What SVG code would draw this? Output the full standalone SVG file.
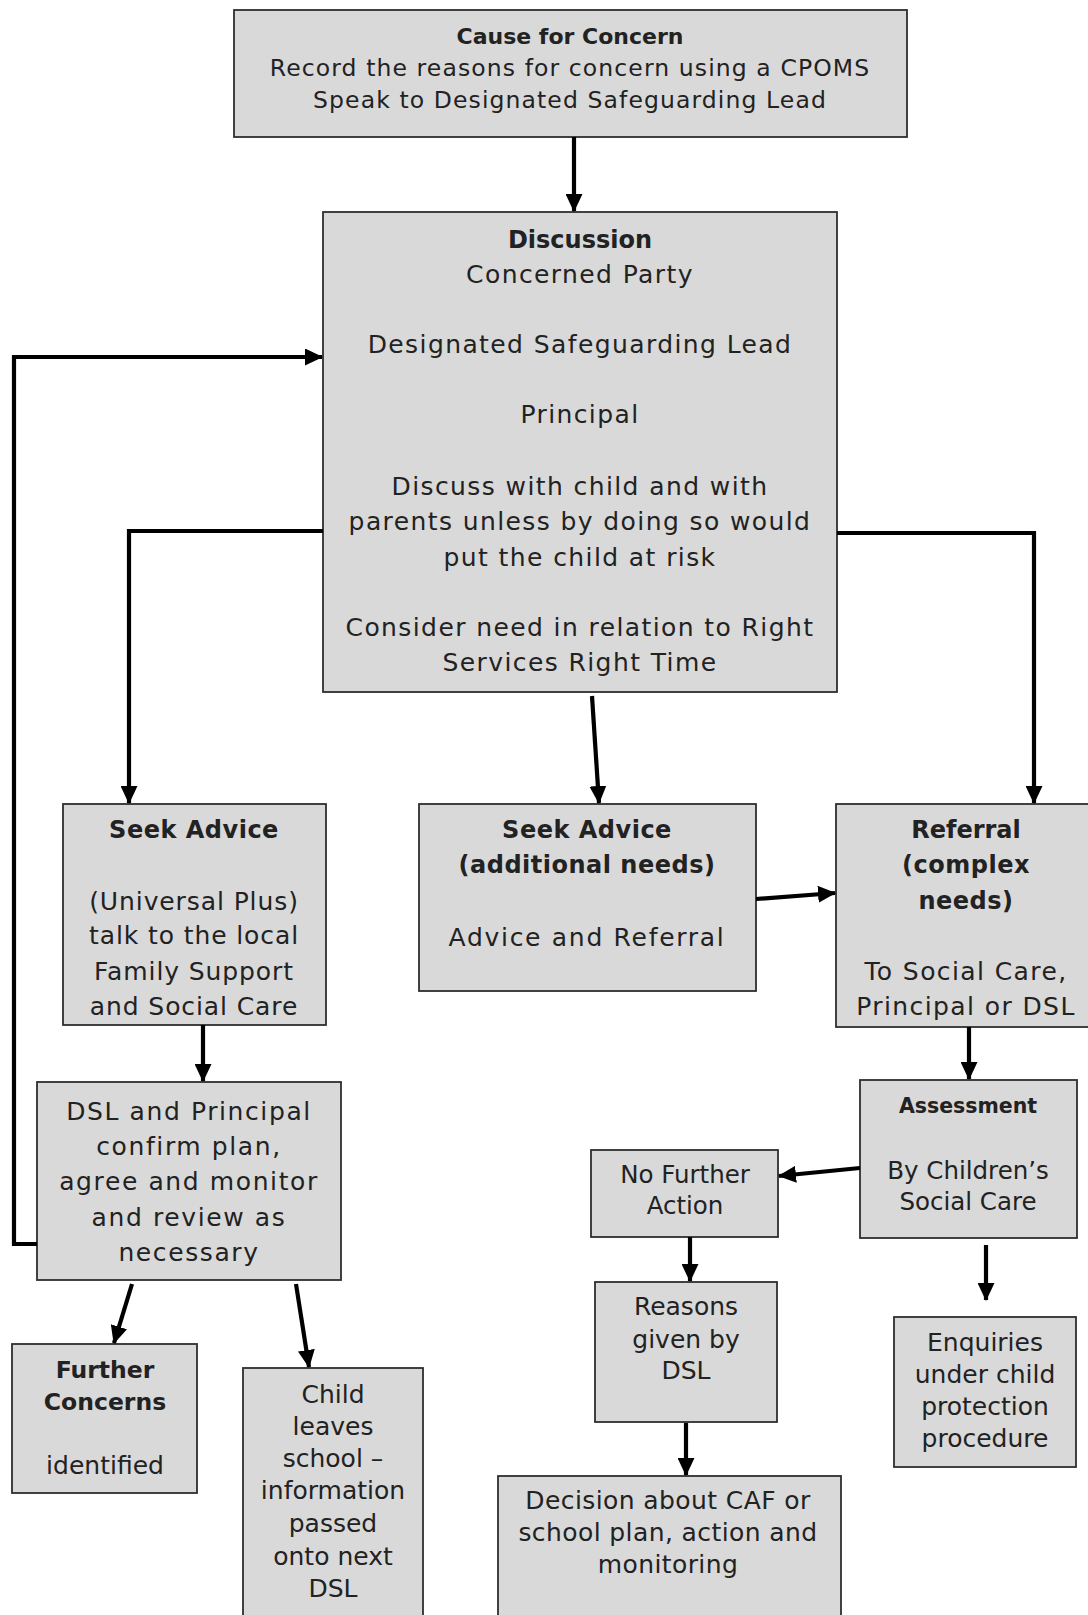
<svg xmlns="http://www.w3.org/2000/svg" width="1088" height="1615" viewBox="0 0 1088 1615">
<defs>
<marker id="ah" markerUnits="userSpaceOnUse" markerWidth="18" markerHeight="17" viewBox="0 0 18 17" refX="17" refY="8.5" orient="auto">
<path d="M0,0 L18,8.5 L0,17 Z" fill="#000"/>
</marker>
<style>
.box{fill:#d9d9d9;stroke:#2e2e2e;stroke-width:1.8}
.t{font-family:"DejaVu Sans","Liberation Sans",sans-serif;fill:#222;text-anchor:middle}
.b{font-weight:bold;font-size:24px;letter-spacing:0.5px}
.bs{font-weight:bold;font-size:22px}
.r{font-size:25px;letter-spacing:1.4px}
.s{font-size:24.5px;letter-spacing:0}
.c{stroke:#000;stroke-width:4.2;fill:none;marker-end:url(#ah)}
</style>
</defs>
<rect width="1088" height="1615" fill="#fff"/>

<g id="cause">
<rect class="box" x="234" y="10" width="673" height="127"/>
<text class="t bs" x="570" y="44">Cause for Concern</text>
<text class="t s" x="570" y="76" style="font-size:23.5px;letter-spacing:1.1px">Record the reasons for concern using a CPOMS</text>
<text class="t s" x="570" y="108" style="font-size:23.5px;letter-spacing:1.1px">Speak to Designated Safeguarding Lead</text>
</g>

<g id="discussion">
<rect class="box" x="323" y="212" width="514" height="480"/>
<text class="t b" x="580" y="248" style="letter-spacing:0">Discussion</text>
<text class="t r" x="580" y="283">Concerned Party</text>
<text class="t r" x="580" y="353">Designated Safeguarding Lead</text>
<text class="t r" x="580" y="423">Principal</text>
<text class="t r" x="580" y="495">Discuss with child and with</text>
<text class="t r" x="580" y="530">parents unless by doing so would</text>
<text class="t r" x="580" y="566">put the child at risk</text>
<text class="t r" x="580" y="636">Consider need in relation to Right</text>
<text class="t r" x="580" y="671">Services Right Time</text>
</g>

<g id="seek-left">
<rect class="box" x="63" y="804" width="263" height="221"/>
<text class="t b" x="194" y="838">Seek Advice</text>
<text class="t r" x="194" y="910" style="letter-spacing:0.9px">(Universal Plus)</text>
<text class="t r" x="194" y="944" style="letter-spacing:0.9px">talk to the local</text>
<text class="t r" x="194" y="980" style="letter-spacing:0.9px">Family Support</text>
<text class="t r" x="194" y="1015" style="letter-spacing:0.9px">and Social Care</text>
</g>

<g id="seek-mid">
<rect class="box" x="419" y="804" width="337" height="187"/>
<text class="t b" x="587" y="838">Seek Advice</text>
<text class="t b" x="587" y="873">(additional needs)</text>
<text class="t r" x="587" y="946" style="letter-spacing:1.7px">Advice and Referral</text>
</g>

<g id="referral">
<rect class="box" x="836" y="804" width="260" height="223"/>
<text class="t b" x="966" y="838" style="letter-spacing:0">Referral</text>
<text class="t b" x="966" y="873">(complex</text>
<text class="t b" x="966" y="909">needs)</text>
<text class="t r" x="966" y="980">To Social Care,</text>
<text class="t r" x="966" y="1015">Principal or DSL</text>
</g>

<g id="dsl-plan">
<rect class="box" x="37" y="1082" width="304" height="198"/>
<text class="t r" x="189" y="1120" style="letter-spacing:1.6px">DSL and Principal</text>
<text class="t r" x="189" y="1155" style="letter-spacing:1.6px">confirm plan,</text>
<text class="t r" x="189" y="1190" style="letter-spacing:1.6px">agree and monitor</text>
<text class="t r" x="189" y="1226" style="letter-spacing:1.6px">and review as</text>
<text class="t r" x="189" y="1261" style="letter-spacing:1.6px">necessary</text>
</g>

<g id="assessment">
<rect class="box" x="860" y="1080" width="217" height="158"/>
<text class="t bs" x="968" y="1113" style="font-size:20.5px">Assessment</text>
<text class="t s" x="968" y="1179">By Children’s</text>
<text class="t s" x="968" y="1210">Social Care</text>
</g>

<g id="no-further-action">
<rect class="box" x="591" y="1150" width="187" height="87"/>
<text class="t s" x="685" y="1183">No Further</text>
<text class="t s" x="685" y="1214">Action</text>
</g>

<g id="reasons">
<rect class="box" x="595" y="1282" width="182" height="140"/>
<text class="t s" x="686" y="1315" style="font-size:25px">Reasons</text>
<text class="t s" x="686" y="1348" style="font-size:25px">given by</text>
<text class="t s" x="686" y="1379" style="font-size:25px">DSL</text>
</g>

<g id="decision">
<rect class="box" x="498" y="1476" width="343" height="150"/>
<text class="t s" x="668" y="1509" style="font-size:25px;letter-spacing:0.4px">Decision about CAF or</text>
<text class="t s" x="668" y="1541" style="font-size:25px;letter-spacing:0.4px">school plan, action and</text>
<text class="t s" x="668" y="1573" style="font-size:25px;letter-spacing:0.4px">monitoring</text>
</g>

<g id="enquiries">
<rect class="box" x="894" y="1317" width="182" height="150"/>
<text class="t s" x="985" y="1351" style="font-size:25px">Enquiries</text>
<text class="t s" x="985" y="1383" style="font-size:25px">under child</text>
<text class="t s" x="985" y="1415" style="font-size:25px">protection</text>
<text class="t s" x="985" y="1447" style="font-size:25px">procedure</text>
</g>

<g id="further-concerns">
<rect class="box" x="12" y="1344" width="185" height="149"/>
<text class="t bs" x="105" y="1378" style="font-size:23.5px">Further</text>
<text class="t bs" x="105" y="1410" style="font-size:23.5px">Concerns</text>
<text class="t s" x="105" y="1474" style="font-size:25px">identified</text>
</g>

<g id="child-leaves">
<rect class="box" x="243" y="1368" width="180" height="260"/>
<text class="t s" x="333" y="1403" style="font-size:25px">Child</text>
<text class="t s" x="333" y="1435" style="font-size:25px">leaves</text>
<text class="t s" x="333" y="1467" style="font-size:25px">school –</text>
<text class="t s" x="333" y="1499" style="font-size:25px">information</text>
<text class="t s" x="333" y="1532" style="font-size:25px">passed</text>
<text class="t s" x="333" y="1565" style="font-size:25px">onto next</text>
<text class="t s" x="333" y="1597" style="font-size:25px">DSL</text>
</g>

<g id="connectors">
<path class="c" d="M574,137 V211"/>
<path class="c" d="M323,531 H129 V803"/>
<path class="c" d="M837,533 H1034 V803"/>
<path class="c" d="M592,696 L599,803"/>
<path class="c" d="M756,899 L835,893"/>
<path class="c" d="M203,1025 V1081"/>
<path class="c" d="M37,1244 H14 V357 H322"/>
<path class="c" d="M132,1284 L114,1343"/>
<path class="c" d="M296,1284 L309,1367"/>
<path class="c" d="M969,1027 V1079"/>
<path class="c" d="M860,1168 L779,1176"/>
<path class="c" d="M690,1237 V1281"/>
<path class="c" d="M686,1423 V1475"/>
<path class="c" d="M986,1245 V1300"/>
</g>
</svg>
